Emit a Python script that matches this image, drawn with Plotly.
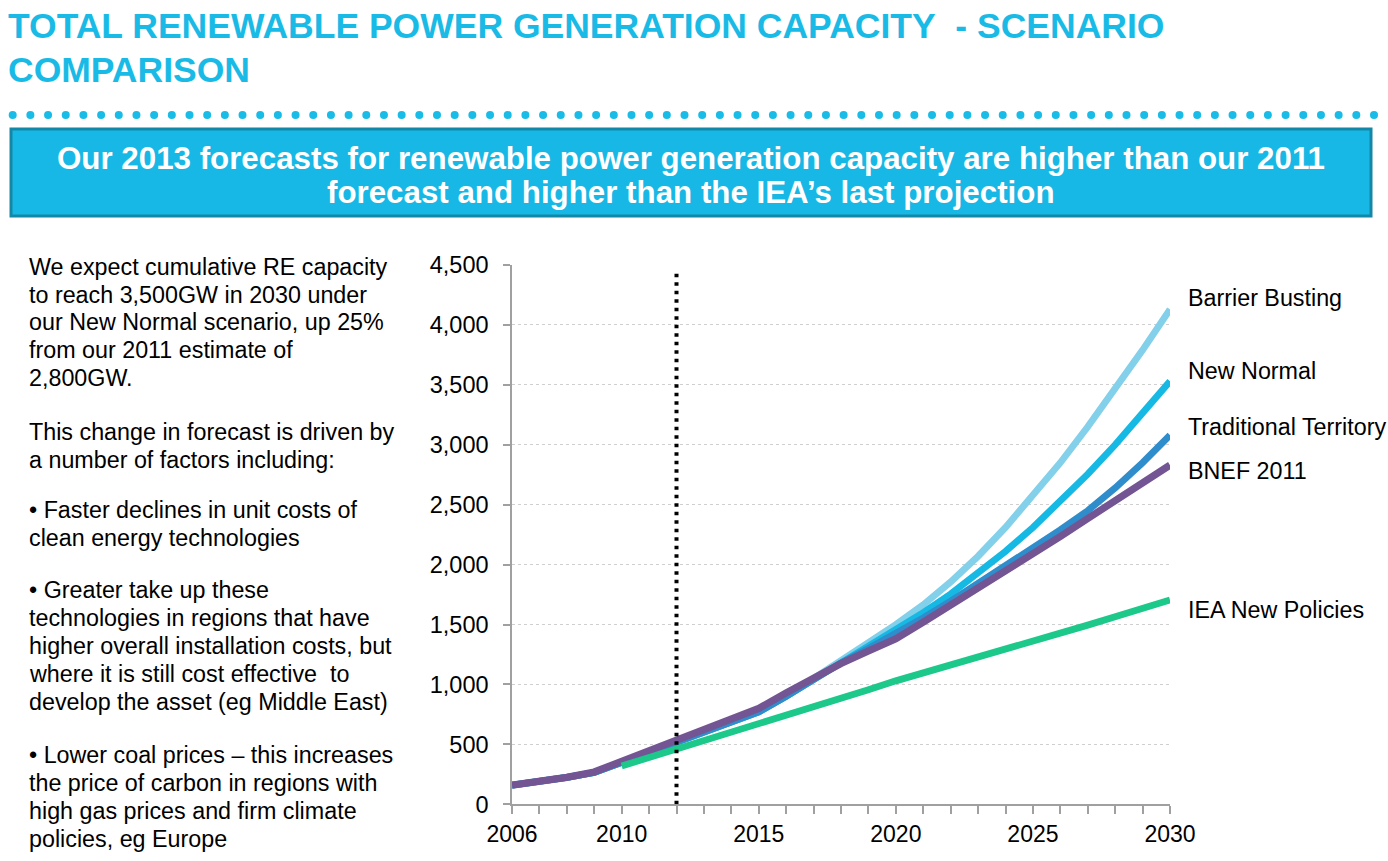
import plotly.graph_objects as go

W, H = 1388, 861

years = list(range(2006, 2031))
barrier_busting = [160, 190, 225, 265, 350, 430, 505, 590, 680, 770, 900, 1045, 1200, 1350, 1500,
                   1665, 1855, 2070, 2310, 2570, 2850, 3150, 3465, 3790, 4130]
new_normal = [160, 190, 225, 265, 350, 430, 505, 590, 680, 770, 900, 1040, 1185, 1315, 1455,
              1600, 1755, 1925, 2110, 2310, 2525, 2755, 3000, 3260, 3530]
traditional_territory = [160, 190, 225, 265, 350, 430, 505, 590, 680, 770, 900, 1040, 1180, 1300, 1420,
                         1555, 1695, 1840, 1990, 2140, 2290, 2450, 2640, 2850, 3080]
bnef_2011 = [160, 190, 225, 270, 360, 450, 545, 630, 715, 800, 930, 1060, 1175, 1280, 1380,
             1520, 1660, 1800, 1945, 2090, 2235, 2385, 2530, 2680, 2830]
iea_years = list(range(2010, 2031))
iea_new_policies = [320, 390, 455, 525, 595, 665, 735, 805, 880, 955, 1030,
                    1095, 1160, 1225, 1290, 1355, 1425, 1495, 1565, 1635, 1705]

y_ticks = [0, 500, 1000, 1500, 2000, 2500, 3000, 3500, 4000, 4500]
x_label_years = [2006, 2010, 2015, 2020, 2025, 2030]
forecast_year = 2012
forecast_line_top = 4450

series = [
    ("Barrier Busting", years, barrier_busting, "#82D0EA", 6.8),
    ("New Normal", years, new_normal, "#16B8E4", 6.8),
    ("Traditional Territory", years, traditional_territory, "#2F8DCB", 6.8),
    ("BNEF 2011", years, bnef_2011, "#735594", 7.2),
    ("IEA New Policies", iea_years, iea_new_policies, "#1CC98A", 6.8),
]

fig = go.Figure()
for name, xs, ys, col, lw in series:
    fig.add_trace(go.Scatter(x=xs, y=ys, mode="lines", name=name,
                             line=dict(color=col, width=lw), hoverinfo="skip"))

def px(x):
    return x / W

def py(y):
    return 1 - y / H

x0p, x1p = 512, 1170
y0p, y1p = 804.3, 265

font_main = "Liberation Sans, Arial, sans-serif"

fig.update_layout(
    width=W, height=H,
    autosize=False,
    margin=dict(l=0, r=0, t=0, b=0, pad=0, autoexpand=False),
    paper_bgcolor="white", plot_bgcolor="white",
    showlegend=False,
    font=dict(family=font_main, color="black"),
    xaxis=dict(domain=[px(x0p), px(x1p)], range=[2006, 2030],
               tickvals=years,
               ticktext=[str(y) if y in x_label_years else "" for y in years],
               ticks="outside", ticklen=8, tickcolor="#A0A0A0", tickwidth=1.5,
               showline=True, linecolor="#A0A0A0", linewidth=1.5,
               showgrid=False, zeroline=False, automargin=False,
               tickfont=dict(size=23, color="black", family=font_main)),
    yaxis=dict(domain=[py(y0p), py(y1p)], range=[0, 4500],
               tickvals=y_ticks, ticktext=[f"{v:,}" for v in y_ticks],
               ticks="outside", ticklen=7, tickcolor="#A0A0A0", tickwidth=1.5,
               ticklabelstandoff=10,
               showline=True, linecolor="#A0A0A0", linewidth=1.5,
               showgrid=True, gridcolor="#CFCFCF", gridwidth=1, griddash="dot",
               zeroline=False, automargin=False,
               tickfont=dict(size=23.5, color="black", family=font_main)),
)

shapes = []
shapes.append(dict(type="line", xref="x", yref="y", x0=forecast_year, x1=forecast_year,
                   y0=0, y1=forecast_line_top,
                   line=dict(color="black", width=4, dash="3.5px,5px")))
n_dots = 78
d_start, d_end, d_y, d_r = 12.7, 1374, 115, 4
step = (d_end - d_start) / (n_dots - 1)
for i in range(n_dots):
    cx = d_start + i * step
    shapes.append(dict(type="circle", xref="paper", yref="paper",
                       x0=px(cx - d_r), x1=px(cx + d_r), y0=py(d_y + d_r), y1=py(d_y - d_r),
                       fillcolor="#19BCE6", line=dict(width=0)))
shapes.append(dict(type="rect", xref="paper", yref="paper",
                   x0=px(11), x1=px(1371), y0=py(216), y1=py(129),
                   fillcolor="#17B8E5", line=dict(color="#1487A6", width=3)))
fig.update_layout(shapes=shapes)

ann = []
title_col = "#19BBE6"
ann.append(dict(text="TOTAL RENEWABLE POWER GENERATION CAPACITY&nbsp;&nbsp;- SCENARIO",
                x=px(6), y=py(26), xref="paper", yref="paper", xanchor="left", yanchor="middle",
                showarrow=False, font=dict(size=35.5, color=title_col, family=font_main, weight="bold")))
ann.append(dict(text="COMPARISON",
                x=px(6), y=py(70), xref="paper", yref="paper", xanchor="left", yanchor="middle",
                showarrow=False, font=dict(size=35.5, color=title_col, family=font_main, weight="bold")))
banner_lines = [("Our 2013 forecasts for renewable power generation capacity are higher than our 2011", 158),
                ("forecast and higher than the IEA’s last projection", 193)]
for t, yy in banner_lines:
    ann.append(dict(text=t, x=px(691), y=py(yy), xref="paper", yref="paper",
                    xanchor="center", yanchor="middle", showarrow=False,
                    font=dict(size=31.3, color="white", family=font_main, weight="bold")))

left_lines = [
    ("We expect cumulative RE capacity", 267),
    ("to reach 3,500GW in 2030 under", 295),
    ("our New Normal scenario, up 25%", 322),
    ("from our 2011 estimate of", 350),
    ("2,800GW.", 378),
    ("This change in forecast is driven by", 432),
    ("a number of factors including:", 460),
    ("• Faster declines in unit costs of", 510),
    ("clean energy technologies", 538),
    ("• Greater take up these", 590),
    ("technologies in regions that have", 618),
    ("higher overall installation costs, but", 646),
    ("where it is still cost effective&nbsp; to", 674),
    ("develop the asset (eg Middle East)", 702),
    ("• Lower coal prices – this increases", 755),
    ("the price of carbon in regions with", 783),
    ("high gas prices and firm climate", 811),
    ("policies, eg Europe", 839),
]
for t, yy in left_lines:
    ann.append(dict(text=t, x=px(27), y=py(yy), xref="paper", yref="paper",
                    xanchor="left", yanchor="middle", showarrow=False,
                    font=dict(size=23.3, color="black", family=font_main)))

series_labels = [("Barrier Busting", 298), ("New Normal", 371), ("Traditional Territory", 427),
                 ("BNEF 2011", 471), ("IEA New Policies", 610)]
for t, yy in series_labels:
    ann.append(dict(text=t, x=px(1186), y=py(yy), xref="paper", yref="paper",
                    xanchor="left", yanchor="middle", showarrow=False,
                    font=dict(size=23.3, color="black", family=font_main)))
fig.update_layout(annotations=ann)

fig.write_html("out.html", post_script="document.body.style.margin='0';")
